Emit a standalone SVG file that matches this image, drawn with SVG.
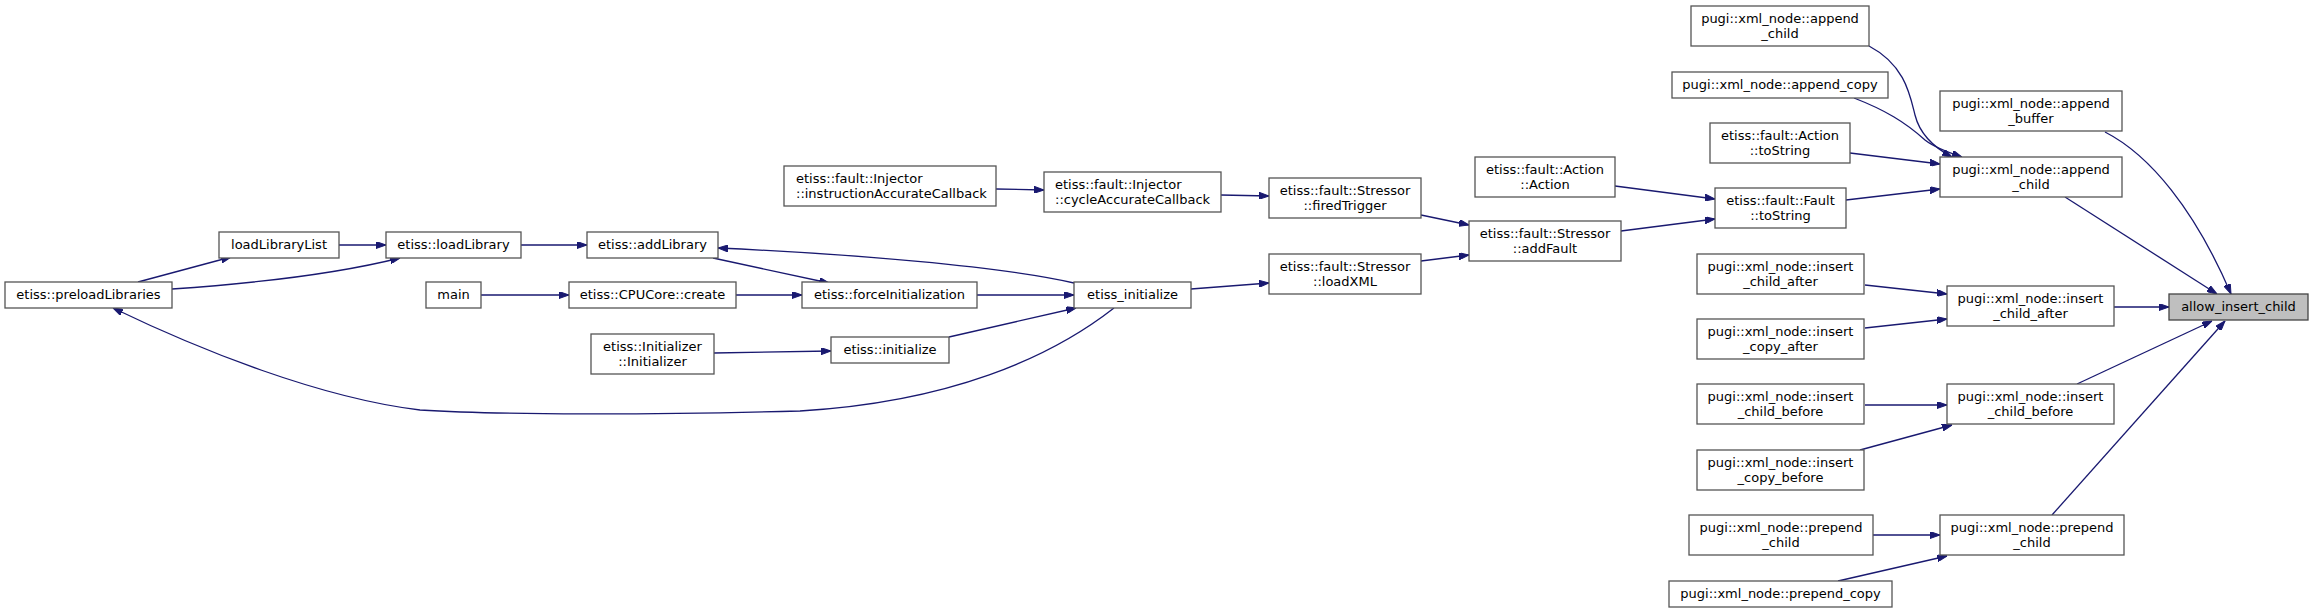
<svg xmlns="http://www.w3.org/2000/svg" width="2313" height="613" viewBox="0 0 2313 613">
<defs>
<marker id="ah" viewBox="0 0 10 7" markerWidth="10" markerHeight="7" refX="10" refY="3.5" orient="auto" markerUnits="userSpaceOnUse">
<path d="M0,0 L10,3.5 L0,7 z" fill="#191970" stroke="#191970" stroke-width="1"/>
</marker>
<style>
.n rect{fill:#fff;stroke:#555;stroke-width:1.3}
.n text{font-family:"DejaVu Sans",sans-serif;font-size:13px;fill:#000;text-anchor:middle}
.n text.l{text-anchor:start}
#n23 rect{fill:#bfbfbf;stroke:#444}
#edges path{fill:none;stroke:#191970;stroke-width:1.3;marker-end:url(#ah)}
</style>
</defs>
<rect width="2313" height="613" fill="#fff"/>
<g id="edges">
<path d="M138,282 L231,257"/>
<path d="M172,289 C260,283 340,273 400,258"/>
<path d="M339,245 L386,245"/>
<path d="M521,245 L587,245"/>
<path d="M713,258 L829,283"/>
<path d="M1074,283 C1000,266 850,254 718,248"/>
<path d="M481,295 L569,295"/>
<path d="M736,295 L802,295"/>
<path d="M977,295 L1074,295"/>
<path d="M714,353 L831,351"/>
<path d="M949,337 L1076,308"/>
<path d="M1114,308 C1050,358 950,402 800,411 C650,415 500,415 420,410 C320,398 200,350 113,308"/>
<path d="M1191,289 L1269,283"/>
<path d="M996,189 L1044,190"/>
<path d="M1221,195 L1269,196"/>
<path d="M1421,215 L1469,225"/>
<path d="M1421,261 L1469,255"/>
<path d="M1615,186 L1715,199"/>
<path d="M1621,231 L1715,219"/>
<path d="M1846,200 L1940,189"/>
<path d="M1850,153 L1940,164"/>
<path d="M1869,46 C1905,65 1910,95 1915,115 C1920,135 1935,148 1952,157"/>
<path d="M1854,98 C1885,110 1905,122 1925,140 C1935,148 1950,153 1962,157"/>
<path d="M2105,132 C2150,155 2195,210 2231,294"/>
<path d="M2065,197 L2217,294"/>
<path d="M1865,285 L1947,294"/>
<path d="M1865,328 L1947,319"/>
<path d="M2114,307 L2169,307"/>
<path d="M1865,405 L1947,405"/>
<path d="M1860,450 L1952,425"/>
<path d="M2077,384 L2212,321"/>
<path d="M2052,515 L2225,321"/>
<path d="M1873,535 L1940,535"/>
<path d="M1838,581 L1947,556"/>
</g>
<g id="n1" class="n"><rect x="5" y="282" width="167" height="26"/><text x="88.5" y="299">etiss::preloadLibraries</text></g>
<g id="n2" class="n"><rect x="219" y="232" width="120" height="26"/><text x="279" y="249">loadLibraryList</text></g>
<g id="n3" class="n"><rect x="386" y="232" width="135" height="26"/><text x="453.5" y="249">etiss::loadLibrary</text></g>
<g id="n4" class="n"><rect x="587" y="232" width="131" height="26"/><text x="652.5" y="249">etiss::addLibrary</text></g>
<g id="n5" class="n"><rect x="426" y="282" width="55" height="26"/><text x="453.5" y="299">main</text></g>
<g id="n6" class="n"><rect x="569" y="282" width="167" height="26"/><text x="652.5" y="299">etiss::CPUCore::create</text></g>
<g id="n7" class="n"><rect x="591" y="334" width="123" height="40"/><text x="652.5" y="351">etiss::Initializer</text><text x="652.5" y="366">::Initializer</text></g>
<g id="n8" class="n"><rect x="802" y="282" width="175" height="26"/><text x="889.5" y="299">etiss::forceInitialization</text></g>
<g id="n9" class="n"><rect x="831" y="337" width="118" height="26"/><text x="890" y="354">etiss::initialize</text></g>
<g id="n10" class="n"><rect x="784" y="166" width="212" height="40"/><text class="l" x="796" y="183">etiss::fault::Injector</text><text class="l" x="796" y="198">::instructionAccurateCallback</text></g>
<g id="n11" class="n"><rect x="1044" y="172" width="177" height="40"/><text class="l" x="1055" y="189">etiss::fault::Injector</text><text class="l" x="1055" y="204">::cycleAccurateCallback</text></g>
<g id="n12" class="n"><rect x="1074" y="282" width="117" height="26"/><text x="1132.5" y="299">etiss_initialize</text></g>
<g id="n13" class="n"><rect x="1269" y="178" width="152" height="40"/><text x="1345" y="195">etiss::fault::Stressor</text><text x="1345" y="210">::firedTrigger</text></g>
<g id="n14" class="n"><rect x="1269" y="254" width="152" height="40"/><text x="1345" y="271">etiss::fault::Stressor</text><text x="1345" y="286">::loadXML</text></g>
<g id="n15" class="n"><rect x="1469" y="221" width="152" height="40"/><text x="1545" y="238">etiss::fault::Stressor</text><text x="1545" y="253">::addFault</text></g>
<g id="n16" class="n"><rect x="1475" y="157" width="140" height="40"/><text x="1545" y="174">etiss::fault::Action</text><text x="1545" y="189">::Action</text></g>
<g id="n17" class="n"><rect x="1715" y="188" width="131" height="40"/><text x="1780.5" y="205">etiss::fault::Fault</text><text x="1780.5" y="220">::toString</text></g>
<g id="n18" class="n"><rect x="1710" y="123" width="140" height="40"/><text x="1780" y="140">etiss::fault::Action</text><text x="1780" y="155">::toString</text></g>
<g id="n19" class="n"><rect x="1672" y="72" width="216" height="26"/><text x="1780" y="89">pugi::xml_node::append_copy</text></g>
<g id="n20" class="n"><rect x="1691" y="6" width="178" height="40"/><text x="1780" y="23">pugi::xml_node::append</text><text x="1780" y="38">_child</text></g>
<g id="n21" class="n"><rect x="1940" y="91" width="182" height="40"/><text x="2031" y="108">pugi::xml_node::append</text><text x="2031" y="123">_buffer</text></g>
<g id="n22" class="n"><rect x="1940" y="157" width="182" height="40"/><text x="2031" y="174">pugi::xml_node::append</text><text x="2031" y="189">_child</text></g>
<g id="n23" class="n"><rect x="2169" y="294" width="139" height="26"/><text x="2238.5" y="311">allow_insert_child</text></g>
<g id="n24" class="n"><rect x="1697" y="254" width="167" height="40"/><text x="1780.5" y="271">pugi::xml_node::insert</text><text x="1780.5" y="286">_child_after</text></g>
<g id="n25" class="n"><rect x="1697" y="319" width="167" height="40"/><text x="1780.5" y="336">pugi::xml_node::insert</text><text x="1780.5" y="351">_copy_after</text></g>
<g id="n26" class="n"><rect x="1947" y="286" width="167" height="40"/><text x="2030.5" y="303">pugi::xml_node::insert</text><text x="2030.5" y="318">_child_after</text></g>
<g id="n27" class="n"><rect x="1697" y="384" width="167" height="40"/><text x="1780.5" y="401">pugi::xml_node::insert</text><text x="1780.5" y="416">_child_before</text></g>
<g id="n28" class="n"><rect x="1697" y="450" width="167" height="40"/><text x="1780.5" y="467">pugi::xml_node::insert</text><text x="1780.5" y="482">_copy_before</text></g>
<g id="n29" class="n"><rect x="1947" y="384" width="167" height="40"/><text x="2030.5" y="401">pugi::xml_node::insert</text><text x="2030.5" y="416">_child_before</text></g>
<g id="n30" class="n"><rect x="1689" y="515" width="184" height="40"/><text x="1781" y="532">pugi::xml_node::prepend</text><text x="1781" y="547">_child</text></g>
<g id="n31" class="n"><rect x="1940" y="515" width="184" height="40"/><text x="2032" y="532">pugi::xml_node::prepend</text><text x="2032" y="547">_child</text></g>
<g id="n32" class="n"><rect x="1669" y="581" width="223" height="26"/><text x="1780.5" y="598">pugi::xml_node::prepend_copy</text></g>
</svg>
